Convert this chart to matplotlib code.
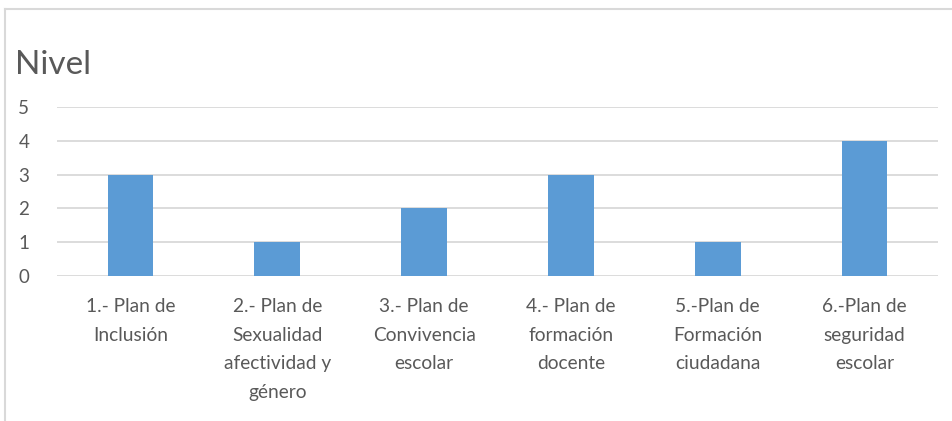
import matplotlib
matplotlib.use("Agg")
import matplotlib.pyplot as plt
from matplotlib.lines import Line2D

categories = ["1.- Plan de\nInclusión",
              "2.- Plan de\nSexualidad\nafectividad y\ngénero",
              "3.- Plan de\nConvivencia\nescolar",
              "4.- Plan de\nformación\ndocente",
              "5.-Plan de\nFormación\nciudadana",
              "6.-Plan de\nseguridad\nescolar"]
values = [3, 1, 2, 3, 1, 4]
yticks = [0, 1, 2, 3, 4, 5]

plt.rcParams['font.family'] = ['Lato', 'DejaVu Sans']
W, H = 953, 421
fig = plt.figure(figsize=(W/100, H/100), dpi=100)
ax = fig.add_axes([57/W, 1-276/H, (938-57)/W, (276-107)/H])

x = list(range(len(categories)))
ax.bar(x, values, width=0.31, color='#5B9BD5', zorder=3)
ax.set_xlim(-0.5, len(categories)-0.5)
ax.set_ylim(0, 5)
ax.set_yticks(yticks)
ax.set_yticklabels([str(t) for t in yticks], fontsize=13.5, color='#595959')
ax.set_xticks(x)
ax.set_xticklabels(categories, fontsize=13.8, color='#595959', linespacing=1.82, va='top')
ax.tick_params(axis='both', length=0)
ax.tick_params(axis='y', pad=20)
ax.tick_params(axis='x', pad=16)
ax.grid(axis='y', color='#D9D9D9', linewidth=1.3, zorder=0)
for s in ax.spines.values():
    s.set_visible(False)

fig.text(15/W, 1-65/H, "Nivel", fontsize=24, color='#595959', va='center', ha='left')

# chart border (top and left)
fig.add_artist(Line2D([5/W, 1], [1-9/H, 1-9/H], color='#D9D9D9', linewidth=1.5))
fig.add_artist(Line2D([5/W, 5/W], [0, 1-9/H], color='#D9D9D9', linewidth=1.5))

fig.savefig("out.png", dpi=100, facecolor='white')
